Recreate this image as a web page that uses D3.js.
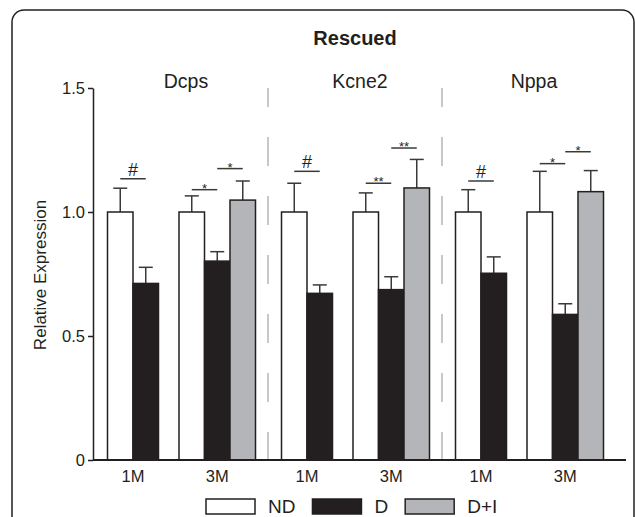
<!DOCTYPE html>
<html>
<head>
<meta charset="utf-8">
<script src="https://cdn.jsdelivr.net/npm/d3@7"></script>
<style>
  body { margin: 0; background: #fff; }
  text { font-family: "Liberation Sans", Arial, sans-serif; fill: #231f20; }
</style>
</head>
<body>
<div id="chart"></div>
<script>
// data
var genes = ["Dcps", "Kcne2", "Nppa"];
var times = ["1M", "3M"];
var treatments = ["ND", "D", "D+I"];
var yTicks = [0, 0.5, 1.0, 1.5];
var yTickLabels = ["0", "0.5", "1.0", "1.5"];

// rows: gene, time, treatment, mean, top of error bar
var bars = [
  ["Dcps", "1M", "ND", 1.00, 1.096],
  ["Dcps", "1M", "D", 0.712, 0.777],
  ["Dcps", "3M", "ND", 1.00, 1.065],
  ["Dcps", "3M", "D", 0.802, 0.840],
  ["Dcps", "3M", "D+I", 1.048, 1.125],
  ["Kcne2", "1M", "ND", 1.00, 1.116],
  ["Kcne2", "1M", "D", 0.672, 0.706],
  ["Kcne2", "3M", "ND", 1.00, 1.077],
  ["Kcne2", "3M", "D", 0.687, 0.739],
  ["Kcne2", "3M", "D+I", 1.097, 1.212],
  ["Nppa", "1M", "ND", 1.00, 1.090],
  ["Nppa", "1M", "D", 0.753, 0.819],
  ["Nppa", "3M", "ND", 1.00, 1.164],
  ["Nppa", "3M", "D", 0.587, 0.630],
  ["Nppa", "3M", "D+I", 1.082, 1.167]
];

// significance brackets: gene, time, from, to, level, mark
var sigs = [
  ["Dcps", "1M", "ND", "D", 1.134, "#"],
  ["Dcps", "3M", "ND", "D", 1.090, "*"],
  ["Dcps", "3M", "D", "D+I", 1.175, "*"],
  ["Kcne2", "1M", "ND", "D", 1.164, "#"],
  ["Kcne2", "3M", "ND", "D", 1.116, "**"],
  ["Kcne2", "3M", "D", "D+I", 1.258, "**"],
  ["Nppa", "1M", "ND", "D", 1.125, "#"],
  ["Nppa", "3M", "ND", "D", 1.195, "*"],
  ["Nppa", "3M", "D", "D+I", 1.243, "*"]
];

var fills = {"ND": "#ffffff", "D": "#231f20", "D+I": "#b4b5b8"};
var ink = "#231f20";

var width = 635, height = 517;

var svg = d3.select("#chart")
  .append("svg")
  .attr("width", width)
  .attr("height", height);

// outer frame (runs off the bottom of the picture)
svg.append("rect")
  .attr("x", 12).attr("y", 10)
  .attr("width", 622).attr("height", 540)
  .attr("rx", 12)
  .attr("fill", "none")
  .attr("stroke", ink)
  .attr("stroke-width", 1.5);

// scales
var y = d3.scaleLinear().domain([0, 1.5]).range([460, 88]);
var xGene = d3.scaleBand().domain(genes).range([94, 616]);
var xTime = d3.scaleOrdinal().domain(times).range([13.5, 85]);
var xTrt = d3.scaleBand().domain(treatments).range([0, 76.5]);

function barX(g, t, tr) { return xGene(g) + xTime(t) + xTrt(tr); }
function barMid(g, t, tr) { return barX(g, t, tr) + xTrt.bandwidth() / 2; }

// dashed separators between genes
svg.append("g")
  .selectAll("line")
  .data(genes.slice(1))
  .enter()
  .append("line")
  .attr("x1", function(g) { return xGene(g); })
  .attr("x2", function(g) { return xGene(g); })
  .attr("y1", y(1.5))
  .attr("y2", y(0))
  .attr("stroke", "#c8c8ca")
  .attr("stroke-width", 2)
  .attr("stroke-dasharray", "29,30")
  .attr("stroke-dashoffset", 10);

// error bars
var err = svg.append("g")
  .attr("stroke", "#3a3a3a")
  .attr("stroke-width", 1.5);

err.selectAll("line.v")
  .data(bars)
  .enter()
  .append("line")
  .attr("class", "v")
  .attr("x1", function(d) { return barMid(d[0], d[1], d[2]); })
  .attr("x2", function(d) { return barMid(d[0], d[1], d[2]); })
  .attr("y1", function(d) { return y(d[3]); })
  .attr("y2", function(d) { return y(d[4]); });

err.selectAll("line.cap")
  .data(bars)
  .enter()
  .append("line")
  .attr("class", "cap")
  .attr("x1", function(d) { return barMid(d[0], d[1], d[2]) - 7; })
  .attr("x2", function(d) { return barMid(d[0], d[1], d[2]) + 7; })
  .attr("y1", function(d) { return y(d[4]); })
  .attr("y2", function(d) { return y(d[4]); });

// bars
svg.append("g")
  .selectAll("rect")
  .data(bars)
  .enter()
  .append("rect")
  .attr("x", function(d) { return barX(d[0], d[1], d[2]); })
  .attr("y", function(d) { return y(d[3]); })
  .attr("width", xTrt.bandwidth())
  .attr("height", function(d) { return y(0) - y(d[3]); })
  .attr("fill", function(d) { return fills[d[2]]; })
  .attr("stroke", ink)
  .attr("stroke-width", 1.5);

// significance lines and marks
var sg = svg.append("g");
sg.selectAll("line")
  .data(sigs)
  .enter()
  .append("line")
  .attr("x1", function(d) { return barMid(d[0], d[1], d[2]); })
  .attr("x2", function(d) { return barMid(d[0], d[1], d[3]); })
  .attr("y1", function(d) { return y(d[4]); })
  .attr("y2", function(d) { return y(d[4]); })
  .attr("stroke", "#3a3a3a")
  .attr("stroke-width", 1.5);

sg.selectAll("text")
  .data(sigs)
  .enter()
  .append("text")
  .attr("x", function(d) { return (barMid(d[0], d[1], d[2]) + barMid(d[0], d[1], d[3])) / 2; })
  .attr("y", function(d) { return d[5] == "#" ? y(d[4]) - 3 : y(d[4]) + 3; })
  .attr("text-anchor", "middle")
  .style("font-size", function(d) { return d[5] == "#" ? "18px" : "13px"; })
  .text(function(d) { return d[5]; });

// y axis
var yAxis = svg.append("g")
  .attr("transform", "translate(93,0)")
  .call(d3.axisLeft(y)
    .tickValues(yTicks)
    .tickFormat(function(d, i) { return yTickLabels[i]; })
    .tickSize(5)
    .tickSizeOuter(0));
yAxis.select(".domain").attr("stroke", ink).attr("stroke-width", 1.5);
yAxis.selectAll(".tick line").attr("stroke", ink).attr("stroke-width", 1.5);
yAxis.selectAll(".tick text")
  .attr("x", -8)
  .style("font-size", "16.5px")
  .style("font-family", "Liberation Sans, Arial, sans-serif")
  .attr("fill", ink);

// x axis baseline
svg.append("line")
  .attr("x1", 93).attr("x2", 626)
  .attr("y1", y(0)).attr("y2", y(0))
  .attr("stroke", ink)
  .attr("stroke-width", 2);

// time labels
var timeLabels = [];
genes.forEach(function(g) {
  times.forEach(function(t) { timeLabels.push([g, t]); });
});
svg.append("g")
  .selectAll("text")
  .data(timeLabels)
  .enter()
  .append("text")
  .attr("x", function(d) {
    var n = d[1] == "1M" ? 2 : 3;
    return xGene(d[0]) + xTime(d[1]) + n * xTrt.bandwidth() / 2;
  })
  .attr("y", 482)
  .attr("text-anchor", "middle")
  .style("font-size", "16.5px")
  .text(function(d) { return d[1]; });

// gene labels
svg.append("g")
  .selectAll("text")
  .data(genes)
  .enter()
  .append("text")
  .attr("x", function(g) { return xGene(g) + xGene.bandwidth() / 2 + 5; })
  .attr("y", 88)
  .attr("text-anchor", "middle")
  .style("font-size", "19.5px")
  .text(function(g) { return g; });

// title
svg.append("text")
  .attr("x", 355)
  .attr("y", 45)
  .attr("text-anchor", "middle")
  .style("font-size", "20px")
  .style("font-weight", "bold")
  .text("Rescued");

// y axis title
svg.append("text")
  .attr("transform", "translate(46,275) rotate(-90)")
  .attr("text-anchor", "middle")
  .style("font-size", "17px")
  .text("Relative Expression");

// legend
var lx = 206;
treatments.forEach(function(tr) {
  svg.append("rect")
    .attr("x", lx).attr("y", 499)
    .attr("width", 49).attr("height", 15)
    .attr("fill", fills[tr])
    .attr("stroke", ink)
    .attr("stroke-width", 1.5);
  var t = svg.append("text")
    .attr("x", lx + 62)
    .attr("y", 513)
    .style("font-size", "19px")
    .text(tr);
  lx = lx + 62 + t.node().getComputedTextLength() + 17;
});
</script>
</body>
</html>
